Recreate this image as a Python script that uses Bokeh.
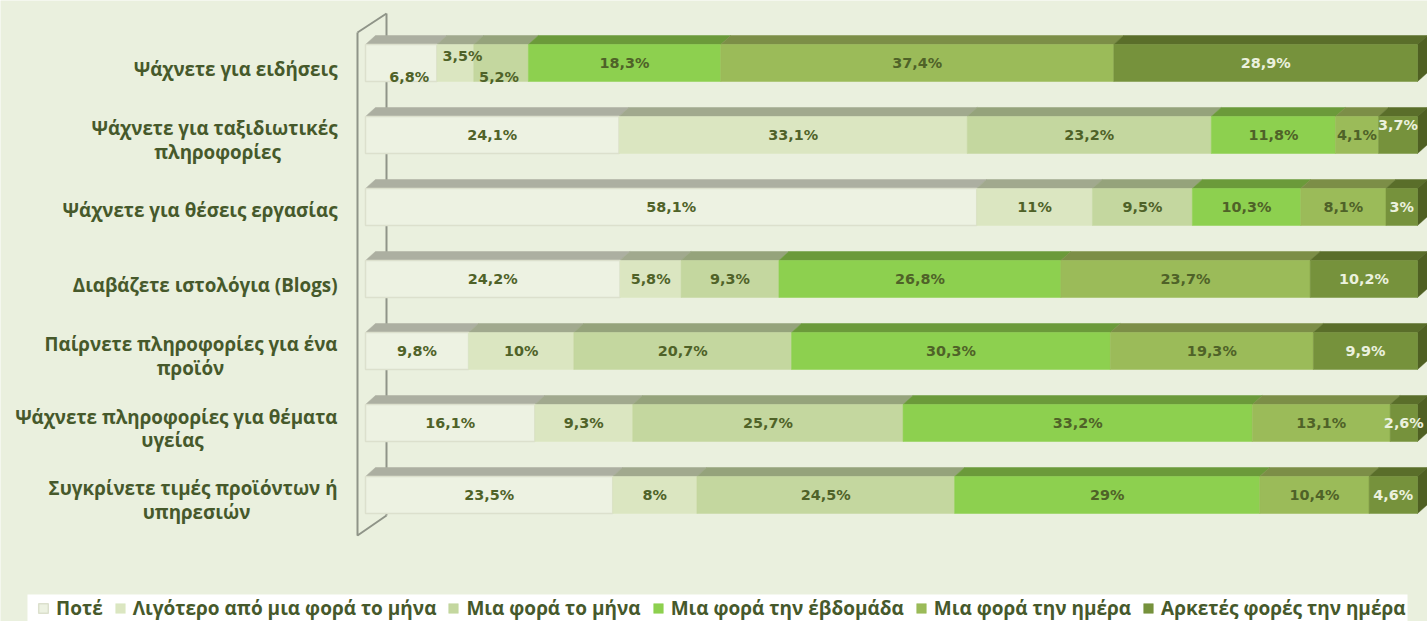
from bokeh.plotting import figure
from bokeh.models import Range1d, ColumnDataSource, Legend, LegendItem
from bokeh.embed import file_html
from bokeh.resources import INLINE
from bokeh.core.properties import value
import numpy as np

rows_first = ["Ψάχνετε για ειδήσεις", "Ψάχνετε για ταξιδιωτικές", "Ψάχνετε για θέσεις εργασίας",
              "Διαβάζετε ιστολόγια (Blogs)", "Παίρνετε πληροφορίες για ένα",
              "Ψάχνετε πληροφορίες για θέματα", "Συγκρίνετε τιμές προϊόντων ή"]
rows_second = ["", "πληροφορίες", "", "", "προϊόν", "υγείας", "υπηρεσιών"]
series_names = ["Ποτέ", "Λιγότερο από μια φορά το μήνα", "Μια φορά το μήνα",
                "Μια φορά την έβδομάδα", "Μια φορά την ημέρα", "Αρκετές φορές την ημέρα"]
never = [6.8, 24.1, 58.1, 24.2, 9.8, 16.1, 23.5]
less_monthly = [3.5, 33.1, 11, 5.8, 10, 9.3, 8]
monthly = [5.2, 23.2, 9.5, 9.3, 20.7, 25.7, 24.5]
weekly = [18.3, 11.8, 10.3, 26.8, 30.3, 33.2, 29]
daily = [37.4, 4.1, 8.1, 23.7, 19.3, 13.1, 10.4]
several_daily = [28.9, 3.7, 3, 10.2, 9.9, 2.6, 4.6]

front_colors = ["#EDF2E2", "#DBE6C1", "#C4D79F", "#8DD04F", "#9BBB59", "#76923C"]
top_colors = ["#ACAFA1", "#A1A98E", "#95A37B", "#6B9A3A", "#7C8E47", "#5A6E2A"]
side_color = "#4F6022"
bg = "#EAF0DE"
text_dark = "#4F6228"
text_light = "#EBF1DE"
label_color = "#46592B"

W, H = 1427, 621
PX_X = 10.52   # pixels per percent
PX_Y = 72.0    # pixels per row
X0, Y0 = 365.0, 62.5  # figure pixel of 0 % and of the first row
DX, DY = 10 / PX_X, 9 / PX_Y
BAR_H = 37 / PX_Y


def fx(px):
    return (px - X0) / PX_X


def fy(px):
    return (px - Y0) / PX_Y


p = figure(width=W, height=H, output_backend="svg", toolbar_location=None,
           x_range=Range1d(fx(0), fx(W)), y_range=Range1d(fy(H), fy(0)),
           x_axis_type=None, y_axis_type=None, min_border=0,
           background_fill_color=bg, border_fill_color=bg, outline_line_color=None)
p.grid.visible = False

# back wall of the 3D chart
wall = "#8F9488"
p.line(x=[fx(386), fx(386)], y=[fy(13), fy(515)], line_color=wall, line_width=2)
p.line(x=[fx(357), fx(357), fx(386)], y=[fy(32), fy(535), fy(515)], line_color=wall, line_width=2)
p.line(x=[fx(357), fx(386)], y=[fy(32), fy(13)], line_color=wall, line_width=2)

# white legend panel
p.quad(left=[fx(27)], right=[fx(1407)], top=[fy(594)], bottom=[fy(621)], fill_color="#FFFFFF", line_color=None)

values = np.array([never, less_monthly, monthly, weekly, daily, several_daily], dtype=float)
shares = values / values.sum(axis=0) * 100
lefts = np.vstack([np.zeros(7), np.cumsum(shares, axis=0)[:-1]])
rights = lefts + shares
ys = np.arange(7, dtype=float)

# top faces
for k in range(6):
    xs, yy = [], []
    for i in range(7):
        t = ys[i] - BAR_H / 2
        xs.append([lefts[k][i], lefts[k][i] + DX, rights[k][i] + DX, rights[k][i]])
        yy.append([t, t - DY, t - DY, t])
    p.patches(xs, yy, fill_color=top_colors[k], line_color=top_colors[k], line_width=0.5)

# right side faces
xs, yy = [], []
for i in range(7):
    t, b, e = ys[i] - BAR_H / 2, ys[i] + BAR_H / 2, rights[5][i]
    xs.append([e, e + DX, e + DX, e])
    yy.append([t, t - DY, b - DY, b])
p.patches(xs, yy, fill_color=side_color, line_color=side_color, line_width=0.5)

# front faces
renderers = []
for k in range(6):
    src = ColumnDataSource(dict(y=ys, left=lefts[k], right=rights[k]))
    r = p.hbar(y="y", left="left", right="right", height=BAR_H, source=src,
               fill_color=front_colors[k],
               line_color="#DCE0CD" if k == 0 else front_colors[k], line_width=1.5 if k == 0 else 0.5)
    renderers.append(r)

# value labels, with the shifts seen for the small segments (px)
shift_x = {(0, 0): 8, (1, 0): 7, (2, 0): -2}
shift_y = {(0, 0): 13.5, (1, 0): -7, (2, 0): 13.5, (5, 1): -10}
for k in range(6):
    tx, ty, tt, ox, oy = [], [], [], [], []
    for i in range(7):
        tx.append((lefts[k][i] + rights[k][i]) / 2)
        ty.append(ys[i])
        tt.append(f"{values[k][i]:g}".replace(".", ",") + "%")
        ox.append(shift_x.get((k, i), 0))
        oy.append(shift_y.get((k, i), 0))
    src = ColumnDataSource(dict(x=tx, y=ty, t=tt, ox=ox, oy=oy))
    p.text(x="x", y="y", text="t", x_offset="ox", y_offset="oy", source=src,
           text_align="center", text_baseline="middle", text_font=value("DejaVu Sans"),
           text_font_style="bold", text_font_size="14.4px",
           text_color=text_light if k == 5 else text_dark)

# row labels
second_centers = [0, 217, 0, 0, 190, 172, 196]  # px of the wrapped line's centre
first_shift = [5.5, -7, 3, 5.5, -7, -6.5, -7.5]  # px from the row's centre
lab_font = dict(text_font=value("Open Sans"), text_font_style="bold", text_font_size="18.8px",
                text_color=label_color, text_baseline="middle")
p.text(x=[fx(337)] * 7, y=[ys[i] + first_shift[i] / PX_Y for i in range(7)],
       text=rows_first, text_align="right", **lab_font)
two = [i for i in range(7) if rows_second[i]]
p.text(x=[fx(second_centers[i]) for i in two], y=[ys[i] + 16.5 / PX_Y for i in two],
       text=[rows_second[i] for i in two], text_align="center", **lab_font)

legend = Legend(items=[LegendItem(label=value(n), renderers=[r]) for n, r in zip(series_names, renderers)],
                orientation="horizontal", location=(37, 0), background_fill_alpha=0,
                border_line_color=None, margin=0, padding=0, spacing=11,
                glyph_width=12, glyph_height=12, label_standoff=7,
                label_text_font="Open Sans", label_text_font_style="bold", label_text_font_size="19px",
                label_text_color=label_color, label_height=15)
p.add_layout(legend, "center")

open("out.html", "w").write(file_html(p, INLINE))
